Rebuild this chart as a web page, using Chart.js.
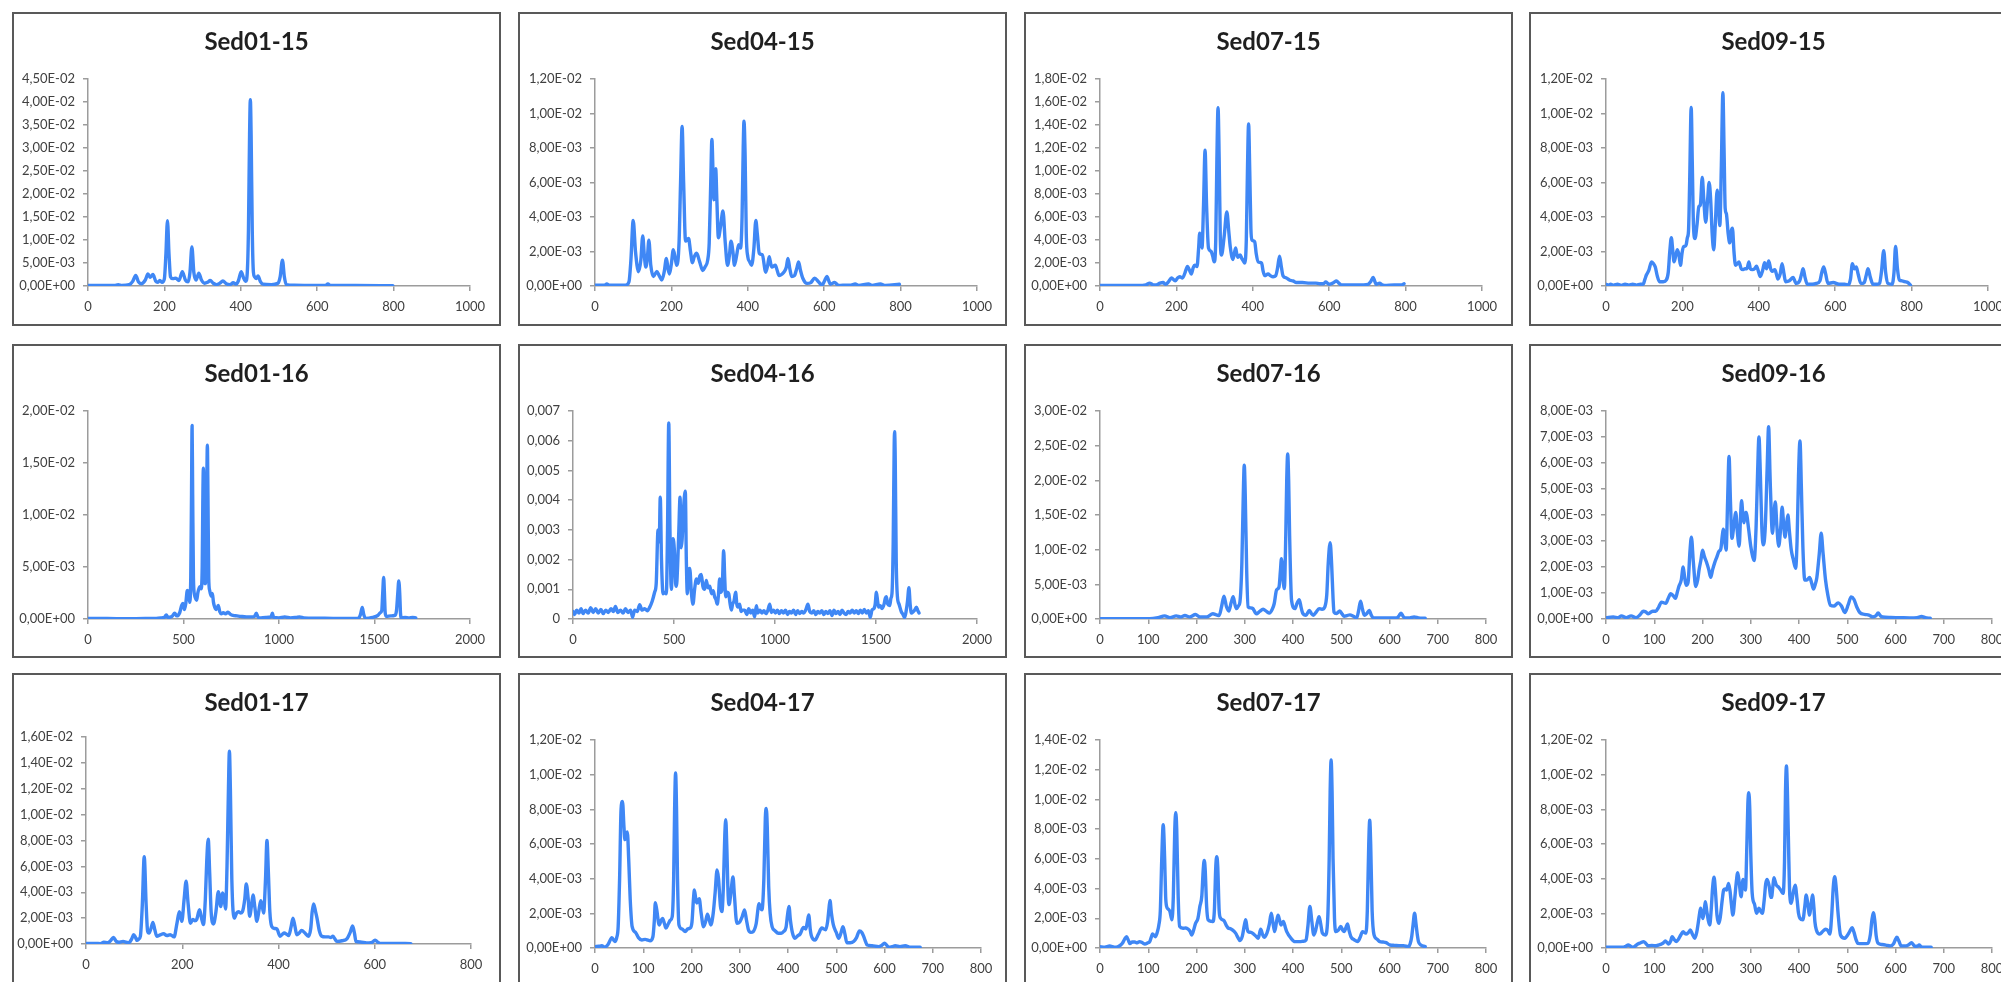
<!DOCTYPE html>
<html>
<head>
<title>Sediment spectra</title>
<script src="https://cdn.jsdelivr.net/npm/chart.js"></script>
<style>
    html, body { margin: 0; padding: 0; background: #fff; overflow: hidden; width: 2001px; height: 982px; }
    .panel { position: absolute; width: 489px; height: 314px; }
    .panel canvas { position: absolute; left: 0; top: 0; }
    .frame { position: absolute; left: 0; top: 0; width: 489px; height: 314px; box-sizing: border-box; border: 2px solid #595959; pointer-events: none; }
</style>
</head>
<body>
<script>
// y values are in units of 1e-3 (labels are formatted back to the original scale)
const sed01_15 = [[0,0.1],[70,0.1],[79,0.3],[88,0.1],[108,0.3],[117,1.0],[125,2.3],[132,0.9],[140,0.5],[150,1.3],[157,2.6],[163,1.9],[170,2.5],[177,1.1],[183,0.8],[188,1.2],[194,0.8],[200,1.6],[204,7],[208,14.2],[212,7],[216,2.0],[222,1.6],[230,1.7],[238,1.2],[247,3.1],[255,1.3],[262,0.9],[267,3],[272,8.5],[277,3],[283,1.3],[290,2.8],[297,1.3],[305,0.6],[313,0.8],[320,1.2],[328,0.6],[336,0.3],[345,0.6],[353,1.1],[362,0.5],[372,0.3],[380,0.7],[388,0.4],[394,1.2],[401,3.1],[407,1.8],[413,1.0],[417,3],[420,12],[423,33],[425,40.5],[427,33],[430,12],[433,3],[436,2.0],[441,1.6],[445,2.2],[451,1.0],[458,0.4],[480,0.3],[497,0.6],[503,2],[509,5.6],[514,2],[519,0.3],[540,0.15],[600,0.1],[622,0.1],[628,0.45],[634,0.1],[700,0.1],[798,0.05]];
const sed04_15 = [[0,0.05],[25,0.05],[31,0.12],[37,0.05],[80,0.05],[89,0.25],[94,1.5],[100,3.8],[106,2.0],[114,0.83],[120,1.5],[125,2.9],[129,1.8],[133,1.1],[137,1.6],[141,2.65],[146,1.2],[153,0.55],[162,0.85],[168,0.6],[175,0.35],[181,0.8],[187,1.6],[191,1.0],[195,0.7],[200,1.3],[205,2.1],[210,1.6],[214,1.2],[220,2.5],[224,6],[228,9.25],[232,6],[237,2.6],[245,2.75],[250,2.0],[255,1.35],[260,1.7],[266,1.9],[274,1.4],[282,0.9],[288,1.1],[295,1.5],[299,2.5],[303,6],[306,8.5],[309,6.5],[311,5.0],[316,6.8],[319,5],[323,2.8],[329,3.5],[335,4.35],[341,2.5],[347,1.2],[352,1.8],[356,2.6],[361,2.0],[365,1.2],[371,1.8],[376,2.4],[381,2.2],[385,4],[388,8],[390,9.55],[393,7.5],[396,3],[400,1.7],[405,1.4],[410,1.2],[416,2.2],[421,3.8],[425,3.0],[430,1.9],[438,1.8],[447,0.8],[452,1.2],[456,1.7],[460,1.3],[463,1.1],[472,1.2],[477,0.9],[482,0.6],[490,0.7],[496,0.85],[501,1.1],[505,1.6],[510,1.0],[515,0.55],[522,0.6],[528,1.0],[533,1.4],[538,0.9],[544,0.45],[555,0.15],[565,0.2],[575,0.45],[585,0.25],[594,0.05],[601,0.3],[607,0.55],[612,0.3],[616,0.1],[627,0.2],[638,0.03],[660,0.05],[670,0.05],[681,0.12],[690,0.03],[716,0.12],[725,0.03],[747,0.12],[760,0.03],[797,0.1]];
const sed07_15 = [[0,0.05],[100,0.05],[120,0.1],[130,0.25],[140,0.1],[147,0.1],[157,0.25],[165,0.3],[172,0.15],[180,0.4],[187,0.7],[197,0.45],[203,0.7],[209,0.8],[216,0.7],[222,1.1],[229,1.7],[234,1.4],[239,1.05],[244,1.6],[248,1.8],[254,1.7],[258,3.2],[261,4.6],[264,4.0],[267,3.3],[271,7],[275,11.8],[279,7],[284,3.3],[291,3.0],[295,2.6],[299,2.1],[303,4],[306,11],[309,15.5],[312,11],[315,4],[318,2.7],[325,4.3],[332,6.45],[337,4.8],[341,3.4],[348,2.3],[355,3.3],[358,2.8],[361,2.5],[367,2.7],[371,2.4],[375,2.2],[379,2.0],[383,4],[386,10],[389,14.1],[392,10],[395,5],[398,4.0],[405,3.85],[409,2.8],[414,2.1],[423,2.0],[427,1.3],[431,0.9],[440,1.05],[446,0.9],[453,0.8],[460,0.9],[465,1.6],[470,2.6],[475,1.6],[479,0.9],[488,0.7],[497,0.5],[505,0.45],[514,0.3],[530,0.3],[549,0.25],[565,0.25],[575,0.2],[585,0.2],[591,0.35],[597,0.2],[601,0.15],[612,0.3],[619,0.45],[625,0.25],[632,0.1],[650,0.1],[671,0.1],[690,0.1],[702,0.15],[709,0.4],[715,0.75],[720,0.35],[723,0.15],[732,0.25],[738,0.1],[745,0.05],[770,0.1],[790,0.1],[796,0.2]];
const sed09_15 = [[0,0.1],[6,0.05],[12,0.1],[20,0.05],[30,0.1],[40,0.03],[50,0.1],[60,0.05],[70,0.1],[80,0.05],[90,0.1],[97,0.1],[102,0.4],[106,0.65],[112,0.9],[119,1.4],[124,1.3],[129,1.1],[134,0.6],[140,0.25],[150,0.25],[158,0.35],[163,0.8],[167,2.0],[171,2.8],[175,2.0],[178,1.4],[183,1.8],[187,2.1],[191,1.8],[195,1.2],[199,1.9],[203,2.3],[207,2.3],[210,2.4],[213,2.8],[216,3.2],[219,6],[223,10.35],[226,7],[229,3.5],[233,2.75],[238,3.5],[243,4.6],[247,4.7],[252,6.3],[256,5.0],[261,3.7],[266,5.0],[270,6.0],[274,5.0],[278,3],[282,2.1],[286,3.5],[291,5.55],[295,4.5],[298,3.5],[302,7],[306,11.2],[309,8],[312,4.5],[315,4.2],[320,3.0],[324,2.5],[328,3.2],[331,3.35],[335,2.0],[339,1.2],[344,1.3],[348,1.4],[354,1.0],[359,0.95],[364,1.0],[369,1.0],[374,1.4],[378,1.0],[383,0.95],[389,1.0],[394,1.15],[399,0.85],[404,0.55],[410,0.9],[415,1.35],[420,1.0],[426,1.45],[431,1.0],[435,0.85],[442,0.95],[446,0.7],[450,0.4],[456,0.7],[461,1.3],[466,0.7],[470,0.25],[480,0.3],[490,0.5],[494,0.3],[498,0.15],[507,0.3],[512,0.7],[516,1.0],[521,0.5],[527,0.1],[540,0.1],[551,0.15],[560,0.3],[565,0.8],[570,1.1],[575,0.7],[581,0.15],[595,0.2],[610,0.1],[625,0.1],[634,0.05],[640,0.4],[645,1.3],[650,1.0],[655,1.1],[660,0.7],[667,0.15],[676,0.2],[681,0.6],[686,1.0],[692,0.5],[699,0.1],[710,0.1],[716,0.15],[721,0.8],[727,2.05],[732,0.8],[738,0.15],[749,0.1],[754,0.8],[758,2.3],[763,1.0],[768,0.35],[775,0.3],[782,0.25],[790,0.2],[797,0.05]];
const sed01_16 = [[0,0.05],[100,0.05],[200,0.03],[300,0.05],[350,0.05],[380,0.1],[400,0.15],[410,0.4],[418,0.15],[440,0.25],[454,0.55],[465,0.3],[480,0.6],[490,1.3],[497,1.5],[505,0.9],[512,1.5],[520,2.75],[526,2.6],[532,1.6],[538,4],[542,12],[545,18.6],[548,12],[552,4],[558,2.3],[563,2.0],[569,1.8],[575,2.5],[585,3.1],[592,2.9],[598,5],[601,11],[604,14.5],[607,11],[611,3.4],[614,3.4],[618,5],[622,13],[625,16.7],[628,12],[632,4],[637,2.75],[645,2.2],[651,2.45],[657,1.6],[663,1.15],[672,0.9],[682,1.3],[690,0.7],[698,0.5],[708,0.6],[720,0.5],[733,0.65],[746,0.45],[759,0.35],[780,0.3],[800,0.25],[829,0.2],[860,0.2],[872,0.25],[881,0.55],[890,0.2],[899,0.1],[930,0.15],[958,0.2],[965,0.55],[972,0.15],[1000,0.1],[1030,0.2],[1060,0.1],[1090,0.15],[1108,0.2],[1130,0.1],[1200,0.08],[1283,0.05],[1350,0.05],[1414,0.05],[1426,0.4],[1436,1.1],[1444,0.4],[1454,0.05],[1490,0.15],[1518,0.35],[1530,0.6],[1538,0.8],[1543,2.5],[1548,4.0],[1552,2.5],[1556,0.6],[1562,0.25],[1585,0.3],[1606,0.35],[1615,0.8],[1622,2.5],[1627,3.65],[1632,2.5],[1636,0.6],[1641,0.1],[1660,0.15],[1680,0.1],[1700,0.15],[1716,0.1]];
const sed04_16 = [[0,0.25],[8,0.15],[18,0.3],[30,0.2],[40,0.35],[50,0.18],[62,0.3],[75,0.2],[88,0.38],[100,0.22],[112,0.35],[125,0.2],[138,0.32],[150,0.18],[162,0.3],[175,0.22],[188,0.35],[200,0.25],[210,0.42],[222,0.22],[235,0.3],[248,0.2],[260,0.35],[272,0.22],[285,0.3],[295,0.05],[305,0.3],[318,0.25],[330,0.48],[342,0.3],[355,0.35],[368,0.28],[380,0.4],[392,0.6],[404,0.9],[412,1.2],[421,3.0],[427,2.6],[432,4.1],[438,2.0],[446,0.85],[455,0.9],[462,0.85],[468,3.0],[474,6.6],[480,3.0],[487,1.0],[495,2.7],[502,2.3],[508,1.2],[512,1.1],[518,1.8],[524,3.0],[530,4.1],[535,2.4],[540,2.65],[548,3.8],[556,4.3],[561,2.0],[566,0.85],[572,1.6],[578,1.7],[586,0.9],[594,0.5],[602,1.0],[611,1.35],[620,1.2],[628,1.45],[635,1.5],[643,1.1],[652,1.0],[660,1.3],[668,1.05],[677,1.1],[686,0.85],[694,0.95],[701,0.75],[708,0.65],[714,0.5],[720,0.8],[726,1.35],[731,0.9],[738,1.0],[746,2.3],[751,1.4],[756,0.75],[764,0.9],[771,0.85],[777,0.55],[784,0.3],[790,0.5],[797,0.6],[805,0.9],[811,0.5],[817,0.4],[825,0.5],[832,0.25],[840,0.3],[850,0.3],[860,0.15],[870,0.35],[880,0.2],[890,0.3],[899,0.07],[908,0.45],[915,0.2],[925,0.3],[935,0.2],[945,0.28],[955,0.18],[965,0.3],[974,0.5],[982,0.22],[992,0.3],[1002,0.2],[1012,0.3],[1022,0.18],[1032,0.28],[1042,0.2],[1052,0.3],[1062,0.15],[1072,0.25],[1082,0.2],[1092,0.3],[1102,0.15],[1112,0.28],[1122,0.18],[1132,0.25],[1142,0.2],[1152,0.3],[1163,0.5],[1172,0.25],[1182,0.2],[1192,0.28],[1202,0.15],[1212,0.25],[1222,0.2],[1232,0.28],[1242,0.15],[1252,0.25],[1262,0.18],[1272,0.28],[1282,0.12],[1292,0.3],[1302,0.18],[1312,0.25],[1322,0.15],[1332,0.3],[1342,0.2],[1352,0.15],[1362,0.25],[1372,0.2],[1382,0.3],[1392,0.2],[1402,0.28],[1412,0.18],[1422,0.3],[1432,0.2],[1442,0.32],[1452,0.2],[1462,0.28],[1472,0.05],[1480,0.3],[1490,0.35],[1496,0.5],[1502,0.9],[1508,0.6],[1513,0.4],[1522,0.45],[1530,0.35],[1540,0.5],[1546,0.7],[1551,0.75],[1558,0.5],[1568,0.45],[1574,0.7],[1579,0.85],[1585,2.5],[1590,5.8],[1592,6.3],[1595,5.5],[1600,2],[1606,0.75],[1614,0.5],[1625,0.25],[1634,0.15],[1642,0.05],[1650,0.3],[1656,0.6],[1663,1.05],[1669,0.5],[1675,0.2],[1685,0.25],[1692,0.3],[1700,0.4],[1706,0.3],[1713,0.2]];
const sed07_16 = [[0,0.05],[50,0.05],[103,0.05],[120,0.2],[134,0.45],[145,0.2],[158,0.45],[167,0.3],[176,0.5],[186,0.3],[198,0.65],[207,0.3],[221,0.3],[234,0.75],[241,0.6],[247,0.5],[252,1.8],[257,3.3],[262,1.8],[267,1.15],[272,2.4],[276,3.2],[280,2.0],[283,1.5],[287,1.9],[290,2.45],[294,8],[297,18],[299,22.2],[301,18],[304,7],[307,1.75],[312,1.6],[317,1.5],[321,1.0],[324,0.75],[331,1.1],[338,1.4],[345,1.1],[351,0.85],[357,1.4],[361,2.2],[366,4.2],[371,4.6],[374,7],[376,8.7],[379,6],[382,4.4],[385,12],[387,20],[389,23.8],[391,20],[393,12],[397,2.7],[404,1.5],[408,2.2],[413,2.8],[417,1.6],[420,0.85],[427,0.55],[434,1.25],[438,0.8],[442,0.55],[448,1.0],[454,1.5],[460,1.4],[466,1.75],[470,3.5],[473,8],[477,11.0],[480,8],[483,3],[485,1.0],[490,0.8],[497,1.15],[502,0.7],[506,0.4],[512,0.5],[518,0.6],[525,0.4],[532,0.15],[536,1.2],[540,2.55],[544,1.4],[548,0.55],[553,0.8],[558,1.25],[562,0.6],[566,0.2],[580,0.15],[600,0.15],[615,0.15],[620,0.5],[624,0.85],[628,0.4],[632,0.15],[642,0.15],[651,0.3],[660,0.15],[674,0.1]];
const sed09_16 = [[0,0.05],[15,0.08],[25,0.05],[32,0.12],[42,0.05],[52,0.12],[62,0.05],[70,0.15],[77,0.3],[82,0.28],[87,0.2],[92,0.25],[97,0.3],[103,0.3],[109,0.45],[115,0.65],[124,0.6],[129,0.8],[134,0.97],[139,0.9],[144,0.8],[148,1.05],[151,1.25],[156,1.5],[160,2.0],[163,1.6],[166,1.3],[170,1.4],[174,2.6],[177,3.15],[181,2.2],[186,1.25],[190,1.5],[193,1.9],[197,2.3],[200,2.65],[204,2.4],[208,2.2],[213,1.9],[217,1.6],[221,1.9],[225,2.15],[230,2.4],[234,2.6],[238,2.7],[241,3.2],[243,3.45],[246,3.0],[249,2.65],[252,4.5],[255,6.25],[258,4.5],[261,3.1],[265,3.6],[269,4.1],[272,3.4],[276,2.8],[279,4.0],[281,4.55],[284,3.9],[286,3.7],[289,4.1],[291,4.1],[294,3.7],[296,3.4],[300,2.8],[304,2.4],[307,2.25],[311,3.5],[314,5.5],[317,7.0],[320,5.5],[323,3.5],[326,2.85],[330,3.5],[334,5.8],[337,7.4],[340,5.5],[343,3.8],[345,3.3],[348,4.0],[351,4.5],[354,3.6],[358,2.8],[362,3.5],[365,4.3],[368,3.7],[371,3.15],[374,3.6],[377,4.0],[380,3.4],[384,2.65],[388,2.3],[393,1.95],[396,3.0],[399,5.5],[402,6.85],[405,5.0],[408,2.8],[412,1.5],[416,1.5],[422,1.6],[426,1.4],[430,1.15],[434,1.35],[437,1.6],[442,2.5],[446,3.3],[450,2.5],[455,1.5],[460,0.9],[465,0.53],[473,0.5],[481,0.62],[488,0.5],[495,0.25],[502,0.55],[508,0.85],[514,0.75],[520,0.45],[526,0.25],[536,0.18],[545,0.15],[553,0.08],[559,0.12],[564,0.23],[569,0.12],[573,0.08],[590,0.06],[610,0.05],[629,0.04],[645,0.05],[654,0.1],[662,0.05],[672,0.03]];
const sed01_17 = [[0,0.05],[20,0.05],[30,0.03],[37,0.13],[45,0.1],[51,0.25],[57,0.5],[63,0.2],[68,0.13],[77,0.2],[83,0.15],[89,0.1],[95,0.4],[99,0.72],[103,0.5],[106,0.28],[110,0.4],[113,0.6],[117,3],[121,6.75],[125,3],[128,1.0],[131,0.85],[135,1.2],[139,1.67],[143,1.1],[147,0.6],[154,0.7],[161,0.8],[168,0.65],[175,0.72],[183,0.55],[189,1.6],[194,2.5],[199,1.75],[204,3.5],[208,4.85],[212,3.2],[217,1.6],[222,1.9],[226,1.8],[230,1.9],[236,2.65],[240,2.0],[244,1.5],[248,3.5],[251,6.5],[254,8.1],[257,5.5],[260,2.5],[265,1.55],[270,2.5],[275,4.05],[280,2.9],[284,3.95],[287,3.5],[290,2.7],[293,6],[296,12],[298,14.9],[300,12],[303,5],[308,2.0],[313,2.4],[317,2.5],[321,2.4],[325,2.5],[330,3.5],[333,4.65],[337,3.5],[340,2.15],[344,3.0],[347,3.8],[351,2.8],[355,1.75],[359,2.5],[363,3.35],[366,3.0],[369,2.4],[373,5],[376,8.0],[379,5.5],[382,2.5],[386,1.35],[392,1.2],[397,1.15],[403,0.6],[408,0.75],[412,0.85],[417,0.75],[421,0.65],[426,1.3],[430,2.0],[434,1.4],[438,0.72],[443,0.85],[448,1.05],[455,0.85],[462,0.6],[467,1.2],[470,2.5],[473,3.1],[477,2.5],[480,2.0],[485,1.0],[490,0.6],[497,0.55],[504,0.55],[509,0.5],[513,0.6],[517,0.4],[521,0.2],[532,0.25],[542,0.4],[549,0.9],[554,1.4],[558,0.8],[561,0.2],[570,0.15],[583,0.08],[592,0.1],[597,0.2],[601,0.3],[606,0.15],[611,0.05],[640,0.05],[675,0.03]];
const sed04_17 = [[0,0.08],[8,0.1],[14,0.13],[20,0.05],[27,0.2],[35,0.6],[41,0.37],[45,0.6],[48,1.23],[51,4],[54,8.0],[57,8.45],[60,7],[62,6.25],[65,6.5],[67,6.7],[70,5],[73,2.8],[77,1.23],[84,0.9],[90,0.6],[97,0.46],[104,0.5],[110,0.45],[114,0.42],[120,0.65],[123,1.6],[125,2.62],[128,2.2],[133,1.33],[137,1.6],[140,1.7],[144,1.4],[147,1.15],[152,1.4],[156,1.6],[160,1.8],[163,4],[165,8],[167,10.1],[169,8],[171,4],[174,1.33],[180,1.1],[187,0.95],[192,1.1],[197,1.15],[201,1.5],[204,2.8],[206,3.35],[209,2.8],[211,2.6],[216,2.85],[220,2.0],[225,1.23],[229,1.5],[233,1.95],[237,1.6],[240,1.33],[245,2.0],[249,3.2],[253,4.5],[256,4.0],[260,2.4],[263,2.1],[266,3.5],[269,6.5],[271,7.4],[273,6],[276,3],[278,2.5],[282,3.3],[286,4.1],[289,3.0],[294,1.43],[300,1.5],[305,1.8],[310,2.2],[314,1.6],[318,1.05],[323,0.9],[328,0.95],[334,1.4],[340,2.55],[343,2.3],[346,2.2],[350,4],[353,7.5],[355,8.05],[357,7],[360,3.55],[363,2.0],[367,1.23],[373,1.0],[380,0.85],[386,0.85],[391,0.95],[396,1.2],[399,1.9],[402,2.4],[405,1.6],[409,0.9],[414,0.56],[420,0.7],[425,0.8],[432,1.18],[437,1.1],[440,1.5],[443,1.9],[446,1.1],[448,0.75],[456,0.46],[463,0.8],[470,1.15],[478,1.05],[482,1.5],[485,2.3],[487,2.75],[490,2.0],[494,1.33],[500,0.9],[505,0.56],[509,0.8],[514,1.23],[518,0.8],[522,0.3],[529,0.3],[536,0.37],[542,0.6],[548,0.98],[553,0.9],[557,0.65],[561,0.35],[564,0.17],[574,0.13],[588,0.08],[594,0.15],[600,0.27],[605,0.15],[609,0.04],[616,0.08],[622,0.13],[632,0.08],[643,0.13],[654,0.04],[674,0.04]];
const sed07_17 = [[0,0.08],[10,0.05],[20,0.13],[30,0.05],[38,0.1],[46,0.3],[51,0.6],[55,0.76],[59,0.5],[62,0.3],[67,0.4],[72,0.4],[77,0.35],[82,0.43],[88,0.35],[93,0.27],[99,0.35],[103,0.43],[106,0.7],[109,0.95],[112,0.85],[115,0.76],[119,1.1],[122,1.55],[125,2.5],[128,6],[131,8.3],[134,6],[136,3.5],[138,2.8],[142,2.6],[145,2.45],[149,1.9],[152,3.5],[155,8],[157,9.1],[159,8],[162,3.5],[165,1.45],[172,1.33],[178,1.35],[183,1.26],[187,1.1],[190,0.88],[194,1.2],[198,1.66],[203,2.0],[207,2.8],[211,3.5],[214,5.3],[216,5.9],[218,5.3],[221,2.8],[224,1.9],[230,1.8],[234,1.78],[237,2.5],[240,5.5],[242,6.15],[244,5.5],[247,2.5],[250,2.0],[257,1.84],[262,1.5],[266,1.33],[270,1.3],[275,1.2],[281,1.0],[286,0.7],[290,0.5],[295,0.8],[299,1.5],[302,1.9],[305,1.3],[307,1.1],[313,1.05],[318,0.95],[323,0.8],[328,0.65],[333,1.26],[337,0.9],[340,0.72],[346,1.0],[351,1.6],[355,2.34],[358,1.8],[362,1.1],[366,1.8],[369,2.2],[372,1.9],[375,1.55],[378,1.7],[380,1.78],[384,1.4],[387,1.1],[396,0.65],[404,0.43],[414,0.43],[421,0.45],[427,0.54],[431,1.5],[435,2.8],[439,1.8],[443,0.88],[447,1.2],[451,1.8],[454,2.1],[457,1.7],[461,1.0],[467,0.88],[472,2],[475,6],[477,10.5],[479,12.65],[481,10.5],[483,6],[486,2],[489,1.1],[494,1.2],[499,1.45],[503,1.2],[506,1.1],[510,1.4],[513,1.62],[516,1.2],[520,0.76],[527,0.55],[534,0.43],[539,0.7],[544,1.1],[551,1.0],[554,2.5],[557,7],[559,8.6],[561,7],[564,2.5],[568,0.88],[574,0.6],[580,0.43],[587,0.4],[593,0.36],[601,0.2],[610,0.18],[620,0.16],[629,0.16],[639,0.09],[643,0.3],[646,0.76],[649,1.6],[652,2.34],[655,1.6],[658,0.8],[660,0.43],[665,0.2],[674,0.09]];
const sed09_17 = [[0,0.04],[20,0.04],[35,0.04],[41,0.1],[46,0.17],[51,0.1],[55,0.04],[60,0.1],[66,0.23],[72,0.3],[78,0.37],[83,0.25],[87,0.13],[95,0.15],[104,0.13],[110,0.18],[115,0.23],[119,0.3],[123,0.4],[127,0.3],[130,0.23],[134,0.4],[137,0.65],[141,0.5],[146,0.37],[150,0.5],[155,0.75],[160,0.94],[163,0.85],[166,0.8],[171,0.9],[175,1.04],[179,0.8],[184,0.56],[188,0.9],[191,1.42],[194,2.0],[196,2.3],[198,2.0],[201,1.7],[204,2.3],[206,2.67],[209,2.1],[212,1.6],[215,1.33],[218,2.2],[221,3.5],[224,4.08],[227,3.2],[230,1.9],[234,1.42],[237,1.8],[241,2.8],[244,3.35],[247,3.4],[250,3.35],[254,3.73],[257,3.3],[260,2.5],[263,1.9],[267,2.9],[270,3.8],[273,4.35],[276,3.8],[280,2.96],[283,3.8],[284,3.96],[287,3.5],[289,3.35],[292,6],[294,8.3],[296,8.96],[298,8],[300,5.5],[303,3.15],[308,2.5],[312,2.0],[317,2.3],[321,2.1],[324,2.0],[328,2.8],[331,3.7],[334,3.96],[338,3.6],[341,3.0],[343,2.92],[346,3.6],[348,4.06],[351,3.8],[353,3.63],[358,3.5],[363,3.3],[367,3.15],[370,5],[372,9],[374,10.5],[376,9],[379,5],[381,3],[384,2.58],[388,3.2],[392,3.63],[396,2.8],[399,2.0],[402,1.71],[408,1.62],[412,2.4],[415,3.06],[418,2.6],[422,1.9],[425,2.5],[428,3.06],[431,2.3],[433,1.5],[436,1.04],[443,0.8],[449,0.95],[455,1.08],[460,1.0],[464,0.8],[468,2.0],[471,3.5],[474,4.12],[477,3.5],[481,2.0],[486,0.75],[495,0.56],[502,0.8],[506,1.0],[510,1.17],[514,0.9],[518,0.5],[522,0.27],[533,0.25],[543,0.27],[548,0.8],[551,1.6],[554,2.04],[557,1.6],[560,0.7],[564,0.27],[572,0.2],[580,0.17],[589,0.12],[596,0.25],[600,0.5],[603,0.62],[607,0.4],[612,0.12],[622,0.12],[628,0.2],[633,0.31],[638,0.15],[640,0.1],[645,0.1],[649,0.17],[653,0.08],[657,0.04],[674,0.04]];

const titles = ['Sed01-15', 'Sed04-15', 'Sed07-15', 'Sed09-15',
                'Sed01-16', 'Sed04-16', 'Sed07-16', 'Sed09-16',
                'Sed01-17', 'Sed04-17', 'Sed07-17', 'Sed09-17'];
const series = [sed01_15, sed04_15, sed07_15, sed09_15,
                sed01_16, sed04_16, sed07_16, sed09_16,
                sed01_17, sed04_17, sed07_17, sed09_17];
const xMax  = [1000, 1000, 1000, 1000, 2000, 2000, 800, 800, 800, 800, 800, 800];
const xStep = [200, 200, 200, 200, 500, 500, 100, 100, 200, 100, 100, 100];
const yMax  = [45, 12, 18, 12, 20, 7, 30, 8, 16, 12, 14, 12];
const yStep = [5, 2, 2, 2, 5, 1, 5, 1, 2, 2, 2, 2];
const yStyle = ['sci', 'sci', 'sci', 'sci', 'sci', 'dec', 'sci', 'sci', 'sci', 'sci', 'sci', 'sci'];

// page layout
const colLeft = [12, 518, 1024, 1529];
const rowTop = [12, 344, 673];
const W = 489, H = 314;
// [y axis x, x axis end, plot top, zero line] inside each box
const geom = [
    [76, 458, 67, 274], [77, 459, 67, 274], [76, 458, 67, 274], [77, 459, 67, 274],
    [76, 458, 67, 275], [55, 459, 67, 275], [76, 462, 67, 275], [77, 463, 67, 275],
    [74, 459, 64, 271], [77, 463, 67, 275], [76, 462, 67, 275], [77, 463, 67, 275]
];

const FONT = 'Lato, "Liberation Sans", sans-serif';
const LINE = '#3f87f5';
const AXIS = '#9c9c9c';
const TEXT = '#404040';

function sciLabel(v) {
    if (Math.abs(v) < 1e-9) return '0,00E+00';
    let m = v, e = 3;
    if (v >= 10 - 1e-9) { m = v / 10; e = 2; }
    return m.toFixed(2).replace('.', ',') + 'E-0' + e;
}
function decLabel(v) {
    if (Math.abs(v) < 1e-9) return '0';
    return (v / 1000).toFixed(3).replace('.', ',');
}

for (let i = 0; i < 12; i++) {
    const [ax, xEnd, top, zero] = geom[i];
    const side = W - xEnd;
    const box = document.createElement('div');
    box.className = 'panel';
    box.style.left = colLeft[i % 4] + 'px';
    box.style.top = rowTop[Math.floor(i / 4)] + 'px';
    const canvas = document.createElement('canvas');
    canvas.width = W;
    canvas.height = H;
    box.appendChild(canvas);
    const frame = document.createElement('div');
    frame.className = 'frame';
    box.appendChild(frame);
    document.body.appendChild(box);

    const titleSize = 24;
    const titleLine = titleSize * 1.2;
    const titleTop = 30 - titleLine / 2;

    new Chart(canvas.getContext('2d'), {
        type: 'line',
        data: {
            datasets: [{
                data: series[i].map(p => ({ x: p[0], y: p[1] })),
                borderColor: LINE,
                borderWidth: 3.4,
                pointRadius: 0,
                fill: false,
                cubicInterpolationMode: 'monotone',
                borderJoinStyle: 'round',
                borderCapStyle: 'round'
            }]
        },
        options: {
            responsive: false,
            animation: false,
            devicePixelRatio: 1,
            events: [],
            layout: { padding: { left: 0, right: 0, top: 0, bottom: H - zero - 30 } },
            plugins: {
                legend: { display: false },
                tooltip: { enabled: false },
                title: {
                    display: true,
                    text: titles[i],
                    color: '#1f1f1f',
                    font: { family: FONT, size: titleSize, weight: 'bold', lineHeight: 1.2 },
                    padding: { top: titleTop, bottom: top - titleTop - titleLine }
                }
            },
            scales: {
                x: {
                    type: 'linear',
                    min: 0,
                    max: xMax[i],
                    afterFit: s => { s.height = 30; },
                    ticks: {
                        stepSize: xStep[i],
                        autoSkip: false,
                        maxRotation: 0,
                        padding: 8,
                        color: TEXT,
                        font: { family: FONT, size: 13 },
                        callback: v => String(v)
                    },
                    grid: { drawOnChartArea: false, drawTicks: true, tickLength: 5, color: AXIS, lineWidth: 1.5 },
                    border: { color: AXIS, width: 1.5 }
                },
                y: {
                    min: 0,
                    max: yMax[i],
                    afterFit: s => { s.width = ax; },
                    ticks: {
                        stepSize: yStep[i],
                        autoSkip: false,
                        padding: 8,
                        color: TEXT,
                        font: { family: FONT, size: 13 },
                        callback: v => yStyle[i] === 'dec' ? decLabel(v) : sciLabel(v)
                    },
                    grid: { drawOnChartArea: false, drawTicks: true, tickLength: 5, color: AXIS, lineWidth: 1.5 },
                    border: { color: AXIS, width: 1.5 }
                },
                // empty right-hand spacer so the plot ends where the original does
                spacer: {
                    type: 'linear',
                    position: 'right',
                    display: true,
                    afterFit: s => { s.width = side; },
                    ticks: { display: false },
                    grid: { display: false, drawTicks: false },
                    border: { display: false }
                }
            }
        }
    });
}
</script>
</body>
</html>
